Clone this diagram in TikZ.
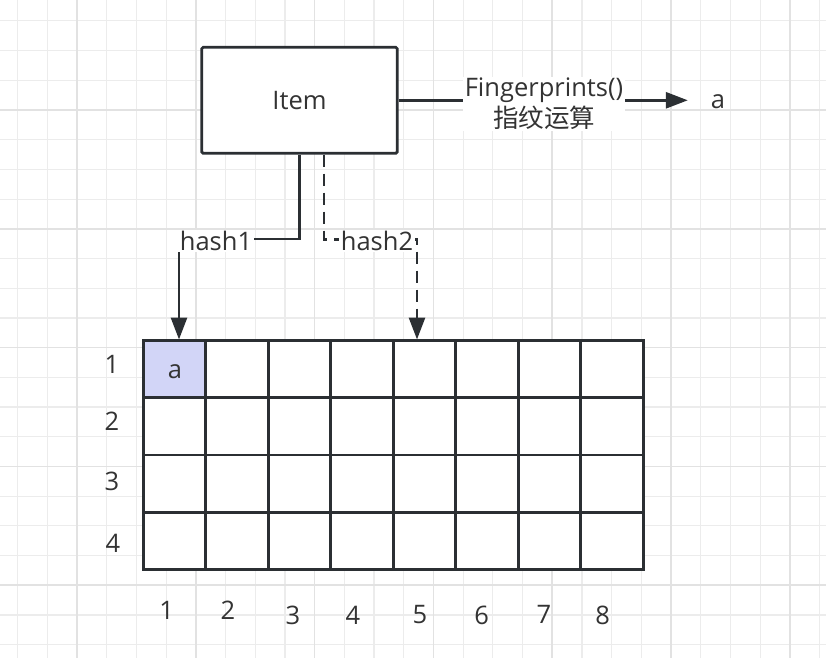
\documentclass[tikz,border=0pt]{standalone}
\usepackage{fontspec}
\setmainfont{Open Sans}
\newfontfamily\cjk{Noto Sans CJK SC}
\usetikzlibrary{arrows.meta,calc}
\definecolor{ink}{HTML}{2B2F33}
\definecolor{txtc}{HTML}{333333}
\definecolor{gridminor}{HTML}{ECECEC}
\definecolor{gridmajor}{HTML}{E2E2E2}
\definecolor{lav}{HTML}{D2D5F7}
\tikzset{
  lbl/.style={font=\fontsize{25.5}{31}\selectfont, text=txtc, inner sep=0pt},
  itembox/.style={draw=ink, line width=2.8pt, fill=white, rounded corners=1.5pt,
    minimum width=195.6pt, minimum height=106pt, lbl},
  cell/.style={draw=ink, fill=white, line width=2.8pt, minimum width=62.5pt, minimum height=57.15pt, lbl},
  conn/.style={draw=ink, line width=2.8pt, -{Triangle[length=22pt,width=16pt]}},
  dashconn/.style={conn, dash pattern=on 12pt off 7pt},
  onlinelbl/.style={lbl, fill=white, inner xsep=2pt, inner ysep=1pt, align=center},
  minorline/.style={draw=gridminor, line width=1.2pt},
  majorline/.style={draw=gridmajor, line width=1.6pt}
}
\begin{document}
\begin{tikzpicture}[x=1pt,y=-1pt]
\fill[white] (0,0) rectangle (826,658);
\useasboundingbox (0,0) rectangle (826,658);
% background grid
\begin{scope}
\clip (0,0) rectangle (826,658);
\foreach \k in {-2,...,25} {\draw[minorline] ({77+\k*29.7},0) -- ({77+\k*29.7},658);}
\foreach \k in {-3,...,18} {\draw[minorline] (0,{110+\k*29.7}) -- (826,{110+\k*29.7});}
\foreach \k in {0,...,6} {\draw[majorline] ({77+\k*118.8},0) -- ({77+\k*118.8},658);}
\foreach \k in {0,...,4} {\draw[majorline] (0,{110+\k*118.8}) -- (826,{110+\k*118.8});}
\end{scope}

% Item box
\node[itembox] (item) at (299.5,100.3) {Item};
\node[lbl, minimum width=60pt] (a) at (718,102) {a};

% table
\foreach \r in {1,...,4} {
  \foreach \c in {1,...,8} {
    \node[cell] (c-\r-\c) at ({143.3+(\c-0.5)*62.5},{340.7+(\r-0.5)*57.15}) {};
  }
}
\node[cell, fill=lav] (c-1-1) at ({143.3+0.5*62.5},{340.7+0.5*57.15}) {};
\node[lbl] (ca) at (175,372) {a};

% row labels
\node[lbl] (r1) at (112,364) {1};
\node[lbl] (r2) at (112,421) {2};
\node[lbl] (r3) at (112,481) {3};
\node[lbl] (r4) at (113,543) {4};
% column labels
\node[lbl] (k1) at (166.7,610.7) {1};
\node[lbl] (k2) at (228,610.7) {2};
\node[lbl] (k3) at (293,615) {3};
\node[lbl] (k4) at (353,615) {4};
\node[lbl] (k5) at (420,615) {5};
\node[lbl] (k6) at (481.7,615) {6};
\node[lbl] (k7) at (544,614) {7};
\node[lbl] (k8) at (602.7,615) {8};

% connectors
\coordinate (h1) at (179,339.5);
\coordinate (h2) at (417,339.5);
\draw[conn] (item.south) |- ($(h1)+(0,-100.5)$) -- (h1);
\draw[dashconn] ($(item.south)+(24.5,0)$) |- ($(h2)+(0,-100)$) -- (h2);
\draw[conn] (item.east) -- (item.east -| a.west);

% labels on connectors
\node[onlinelbl] (fp) at (544,104) {Fingerprints()\\{\cjk 指纹运算}};
\node[onlinelbl] (l1) at (216,241) {hash1};
\node[onlinelbl] (l2) at (377,241) {hash2};
\end{tikzpicture}
\end{document}
